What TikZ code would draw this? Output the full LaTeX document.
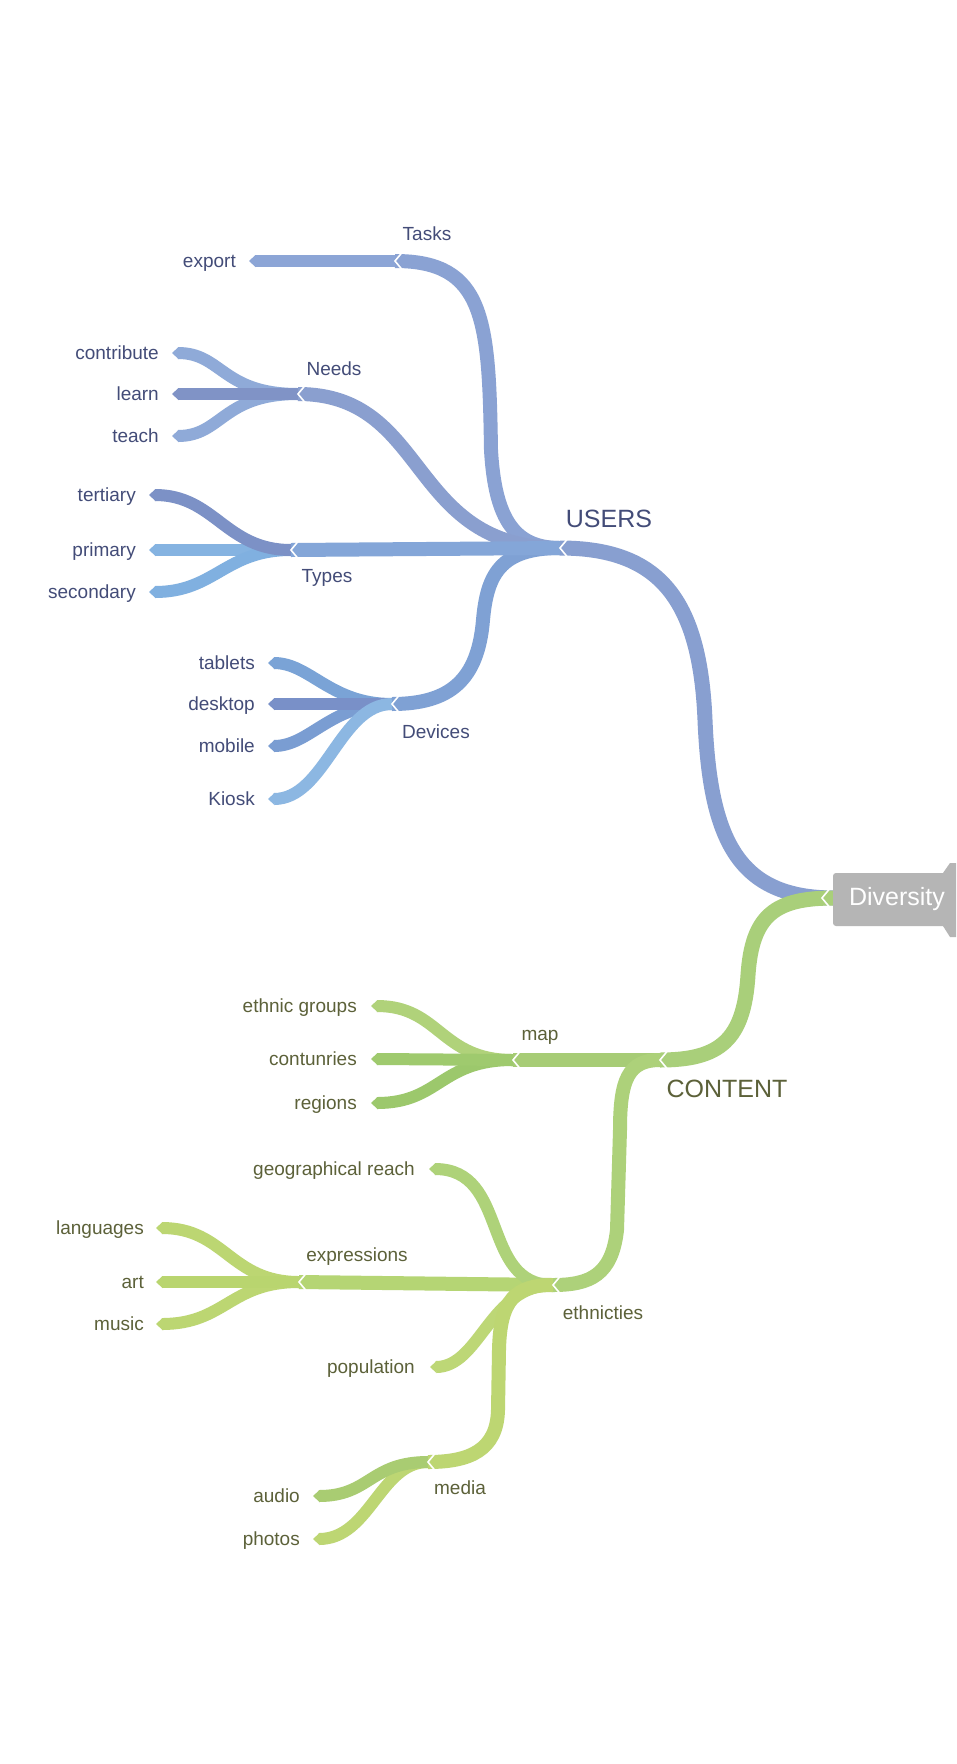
\documentclass[tikz,border=0pt]{standalone}
\usepackage{fontspec}
\setmainfont{Liberation Sans}
\usetikzlibrary{calc}
% blue family
\definecolor{usersc}{HTML}{889FD0}
\definecolor{tasksc}{HTML}{8AA2D3}
\definecolor{exportc}{HTML}{8CA5D6}
\definecolor{needsc}{HTML}{8A9FCF}
\definecolor{contribc}{HTML}{8FAAD8}
\definecolor{learnc}{HTML}{8093C6}
\definecolor{typesc}{HTML}{84A6D8}
\definecolor{tertc}{HTML}{7C91C6}
\definecolor{primc}{HTML}{85B3E1}
\definecolor{secc}{HTML}{80B0E0}
\definecolor{devc}{HTML}{7FA1D4}
\definecolor{tabc}{HTML}{7AA3D6}
\definecolor{deskc}{HTML}{7990C8}
\definecolor{mobc}{HTML}{7A9DD2}
\definecolor{kioc}{HTML}{8CB7E2}
% green family
\definecolor{contc}{HTML}{A9CF7A}
\definecolor{mapc}{HTML}{A7CC76}
\definecolor{ethgc}{HTML}{B0D27A}
\definecolor{counc}{HTML}{9FCA6E}
\definecolor{regc}{HTML}{9CC86C}
\definecolor{ethnc}{HTML}{ADD17A}
\definecolor{geoc}{HTML}{AED279}
\definecolor{exprc}{HTML}{B5D574}
\definecolor{langc}{HTML}{BCD672}
\definecolor{artc}{HTML}{B9D56F}
\definecolor{popc}{HTML}{BDD776}
\definecolor{medc}{HTML}{BDD672}
\definecolor{audc}{HTML}{A9CC72}
\definecolor{phoc}{HTML}{BDD673}
% text / root
\definecolor{bluetext}{HTML}{434C78}
\definecolor{greentext}{HTML}{5C6139}
\definecolor{rootgray}{HTML}{B5B5B5}

\newcommand\leaftip[2]{\fill[#2] ($(#1)+(0.5,-6)$) -- ($(#1)+(-6,0)$) -- ($(#1)+(0.5,6)$) -- cycle;}
\newcommand\notchat[1]{\draw[white, line width=1.6pt, line cap=round] ($(#1)+(7,-8.5)$) -- (#1) -- ($(#1)+(7,8.5)$);}

\begin{document}
\begin{tikzpicture}[x=1pt, y=-1pt,
  trk/.style={line width=15pt},
  br/.style={line width=14pt},
  lf/.style={line width=12pt},
  blab/.style={text=bluetext, font=\fontsize{19}{22}\selectfont, inner sep=0pt},
  glab/.style={text=greentext, font=\fontsize{19}{22}\selectfont, inner sep=0pt},
  bbig/.style={text=bluetext, font=\fontsize{25}{28}\selectfont, inner sep=0pt},
  gbig/.style={text=greentext, font=\fontsize{25}{28}\selectfont, inner sep=0pt},
  rootlab/.style={text=white, font=\fontsize{25}{28}\selectfont, inner sep=0pt}]
\useasboundingbox (0,0) rectangle (956,1764);
\fill[white] (0,0) rectangle (956,1764);

% ---------- node points ----------
\coordinate (div) at (834,898);
\coordinate (divnotch) at (822,898);
\coordinate (users) at (560,548);
\coordinate (tasks) at (395,261);
\coordinate (needs) at (298,394);
\coordinate (types) at (291,550);
\coordinate (devices) at (392,704);
\coordinate (exp) at (255,261);
\coordinate (contribute) at (178,353);
\coordinate (learn) at (178,394);
\coordinate (teach) at (178,436);
\coordinate (tertiary) at (155,495);
\coordinate (primary) at (155,550);
\coordinate (secondary) at (155,592);
\coordinate (tablets) at (274,663);
\coordinate (desktop) at (274,704);
\coordinate (mobile) at (274,746);
\coordinate (kiosk) at (274,799);
\coordinate (content) at (660,1060);
\coordinate (map) at (513,1060);
\coordinate (ethn) at (553,1285);
\coordinate (expr) at (299,1282);
\coordinate (media) at (428,1462);
\coordinate (ethnic) at (377,1006);
\coordinate (countries) at (377,1059);
\coordinate (regions) at (377,1103);
\coordinate (geo) at (435,1169);
\coordinate (pop) at (436,1367);
\coordinate (lang) at (162,1228);
\coordinate (art) at (162,1282);
\coordinate (music) at (162,1324);
\coordinate (audio) at (319,1496);
\coordinate (photos) at (319,1539);

% ---------- blue branches ----------
\draw[trk, usersc] (div) .. controls (738,898) and (710,840) .. (705,720)
   .. controls (700,600) and (660,548) .. (users);
\draw[br, tasksc] (users) .. controls (515,548) and (495,520) .. (491,450)
   .. controls (489,320) and (485,261) .. (tasks);
\draw[br, needsc] (users) .. controls (407,548) and (430,394) .. (needs);
\draw[br, devc] (users) .. controls (500,548) and (487,575) .. (483,620)
   .. controls (478,680) and (450,704) .. (devices);
\draw[br, typesc] (users) -- (types);

\draw[lf, exportc] (tasks) -- (exp);
\draw[lf, contribc] (needs) .. controls (222,394) and (222,353) .. (contribute);
\draw[lf, contribc] (needs) .. controls (222,394) and (222,436) .. (teach);
\draw[lf, learnc] (needs) -- (learn);
\draw[lf, primc] (types) -- (primary);
\draw[lf, secc] (types) .. controls (225,550) and (215,592) .. (secondary);
\draw[lf, tertc] (types) .. controls (225,550) and (215,495) .. (tertiary);
\draw[lf, tabc] (devices) .. controls (330,704) and (310,663) .. (tablets);
\draw[lf, mobc] (devices) .. controls (330,704) and (310,746) .. (mobile);
\draw[lf, deskc] (devices) -- (desktop);
\draw[lf, kioc] (devices) .. controls (340,704) and (325,799) .. (kiosk);

% ---------- green branches ----------
\draw[trk, contc] (div) .. controls (775,898) and (752,915) .. (748,975)
   .. controls (744,1040) and (720,1060) .. (content);
\draw[br, mapc] (content) -- (map);
\draw[br, ethnc] (content) .. controls (628,1060) and (620,1080) .. (620,1130)
   -- (617,1230) .. controls (612,1275) and (590,1285) .. (ethn);
\draw[lf, ethgc] (map) .. controls (440,1060) and (440,1006) .. (ethnic);
\draw[lf, regc] (map) .. controls (440,1060) and (440,1103) .. (regions);
\draw[lf, counc] (map) -- (countries);

\draw[br, exprc] (ethn) -- (expr);
\draw[lf, geoc] (ethn) .. controls (480,1285) and (510,1169) .. (geo);
\draw[lf, popc] (ethn) .. controls (490,1285) and (480,1367) .. (pop);
\draw[br, medc] (ethn) .. controls (515,1285) and (500,1300) .. (499,1350)
   -- (498,1410) .. controls (497,1450) and (470,1462) .. (media);
\draw[lf, langc] (expr) .. controls (230,1282) and (225,1228) .. (lang);
\draw[lf, langc] (expr) .. controls (230,1282) and (225,1324) .. (music);
\draw[lf, artc] (expr) -- (art);
\draw[lf, phoc] (media) .. controls (380,1462) and (370,1539) .. (photos);
\draw[lf, audc] (media) .. controls (370,1462) and (370,1496) .. (audio);

% ---------- leaf tips ----------
\leaftip{exp}{exportc}
\leaftip{contribute}{contribc}
\leaftip{learn}{learnc}
\leaftip{teach}{contribc}
\leaftip{tertiary}{tertc}
\leaftip{primary}{primc}
\leaftip{secondary}{secc}
\leaftip{tablets}{tabc}
\leaftip{desktop}{deskc}
\leaftip{mobile}{mobc}
\leaftip{kiosk}{kioc}
\leaftip{ethnic}{ethgc}
\leaftip{countries}{counc}
\leaftip{regions}{regc}
\leaftip{geo}{geoc}
\leaftip{pop}{popc}
\leaftip{lang}{langc}
\leaftip{art}{artc}
\leaftip{music}{langc}
\leaftip{audio}{audc}
\leaftip{photos}{phoc}

% ---------- notches ----------
\notchat{tasks}
\notchat{needs}
\notchat{types}
\notchat{devices}
\notchat{users}
\notchat{content}
\notchat{map}
\notchat{ethn}
\notchat{expr}
\notchat{media}

% ---------- root box ----------
\fill[rootgray, rounded corners=3pt] (833,873) rectangle (947,926);
\fill[rootgray] (943,873) -- (950,863) -- (956,863) -- (956,937) -- (950,937) -- (943,926) -- cycle;
\notchat{divnotch}
\node[rootlab, anchor=base] (root) at (897,905) {Diversity};

% ---------- labels ----------
\node[bbig, anchor=base] (lusers) at (609,527) {USERS};
\node[blab, anchor=base] (ltasks) at (427,240) {Tasks};
\node[blab, anchor=base] (lneeds) at (334,375) {Needs};
\node[blab, anchor=base] (ltypes) at (327,582) {Types};
\node[blab, anchor=base] (ldevices) at (436,738) {Devices};

\node[blab, anchor=base east] (lexport) at ($(exp)+(-19,6.5)$) {export};
\node[blab, anchor=base east] (lcontribute) at ($(contribute)+(-19,6.5)$) {contribute};
\node[blab, anchor=base east] (llearn) at ($(learn)+(-19,6.5)$) {learn};
\node[blab, anchor=base east] (lteach) at ($(teach)+(-19,6.5)$) {teach};
\node[blab, anchor=base east] (ltertiary) at ($(tertiary)+(-19,6.5)$) {tertiary};
\node[blab, anchor=base east] (lprimary) at ($(primary)+(-19,6.5)$) {primary};
\node[blab, anchor=base east] (lsecondary) at ($(secondary)+(-19,6.5)$) {secondary};
\node[blab, anchor=base east] (ltablets) at ($(tablets)+(-19,6.5)$) {tablets};
\node[blab, anchor=base east] (ldesktop) at ($(desktop)+(-19,6.5)$) {desktop};
\node[blab, anchor=base east] (lmobile) at ($(mobile)+(-19,6.5)$) {mobile};
\node[blab, anchor=base east] (lkiosk) at ($(kiosk)+(-19,6.5)$) {Kiosk};

\node[gbig, anchor=base] (lcontent) at (727,1097) {CONTENT};
\node[glab, anchor=base] (lmap) at (540,1040) {map};
\node[glab, anchor=base] (lexpr) at (357,1261) {expressions};
\node[glab, anchor=base] (lethn) at (603,1319) {ethnicties};
\node[glab, anchor=base] (lmedia) at (460,1494) {media};

\node[glab, anchor=base east] (lethnic) at ($(ethnic)+(-20,6.5)$) {ethnic groups};
\node[glab, anchor=base east] (lcountries) at ($(countries)+(-20,6.5)$) {contunries};
\node[glab, anchor=base east] (lregions) at ($(regions)+(-20,6.5)$) {regions};
\node[glab, anchor=base east] (lgeo) at ($(geo)+(-20,6.5)$) {geographical reach};
\node[glab, anchor=base east] (lpop) at ($(pop)+(-21,6.5)$) {population};
\node[glab, anchor=base east] (llang) at ($(lang)+(-18,6.5)$) {languages};
\node[glab, anchor=base east] (lart) at ($(art)+(-18,6.5)$) {art};
\node[glab, anchor=base east] (lmusic) at ($(music)+(-18,6.5)$) {music};
\node[glab, anchor=base east] (laudio) at ($(audio)+(-19,6.5)$) {audio};
\node[glab, anchor=base east] (lphotos) at ($(photos)+(-19,6.5)$) {photos};
\end{tikzpicture}
\end{document}
